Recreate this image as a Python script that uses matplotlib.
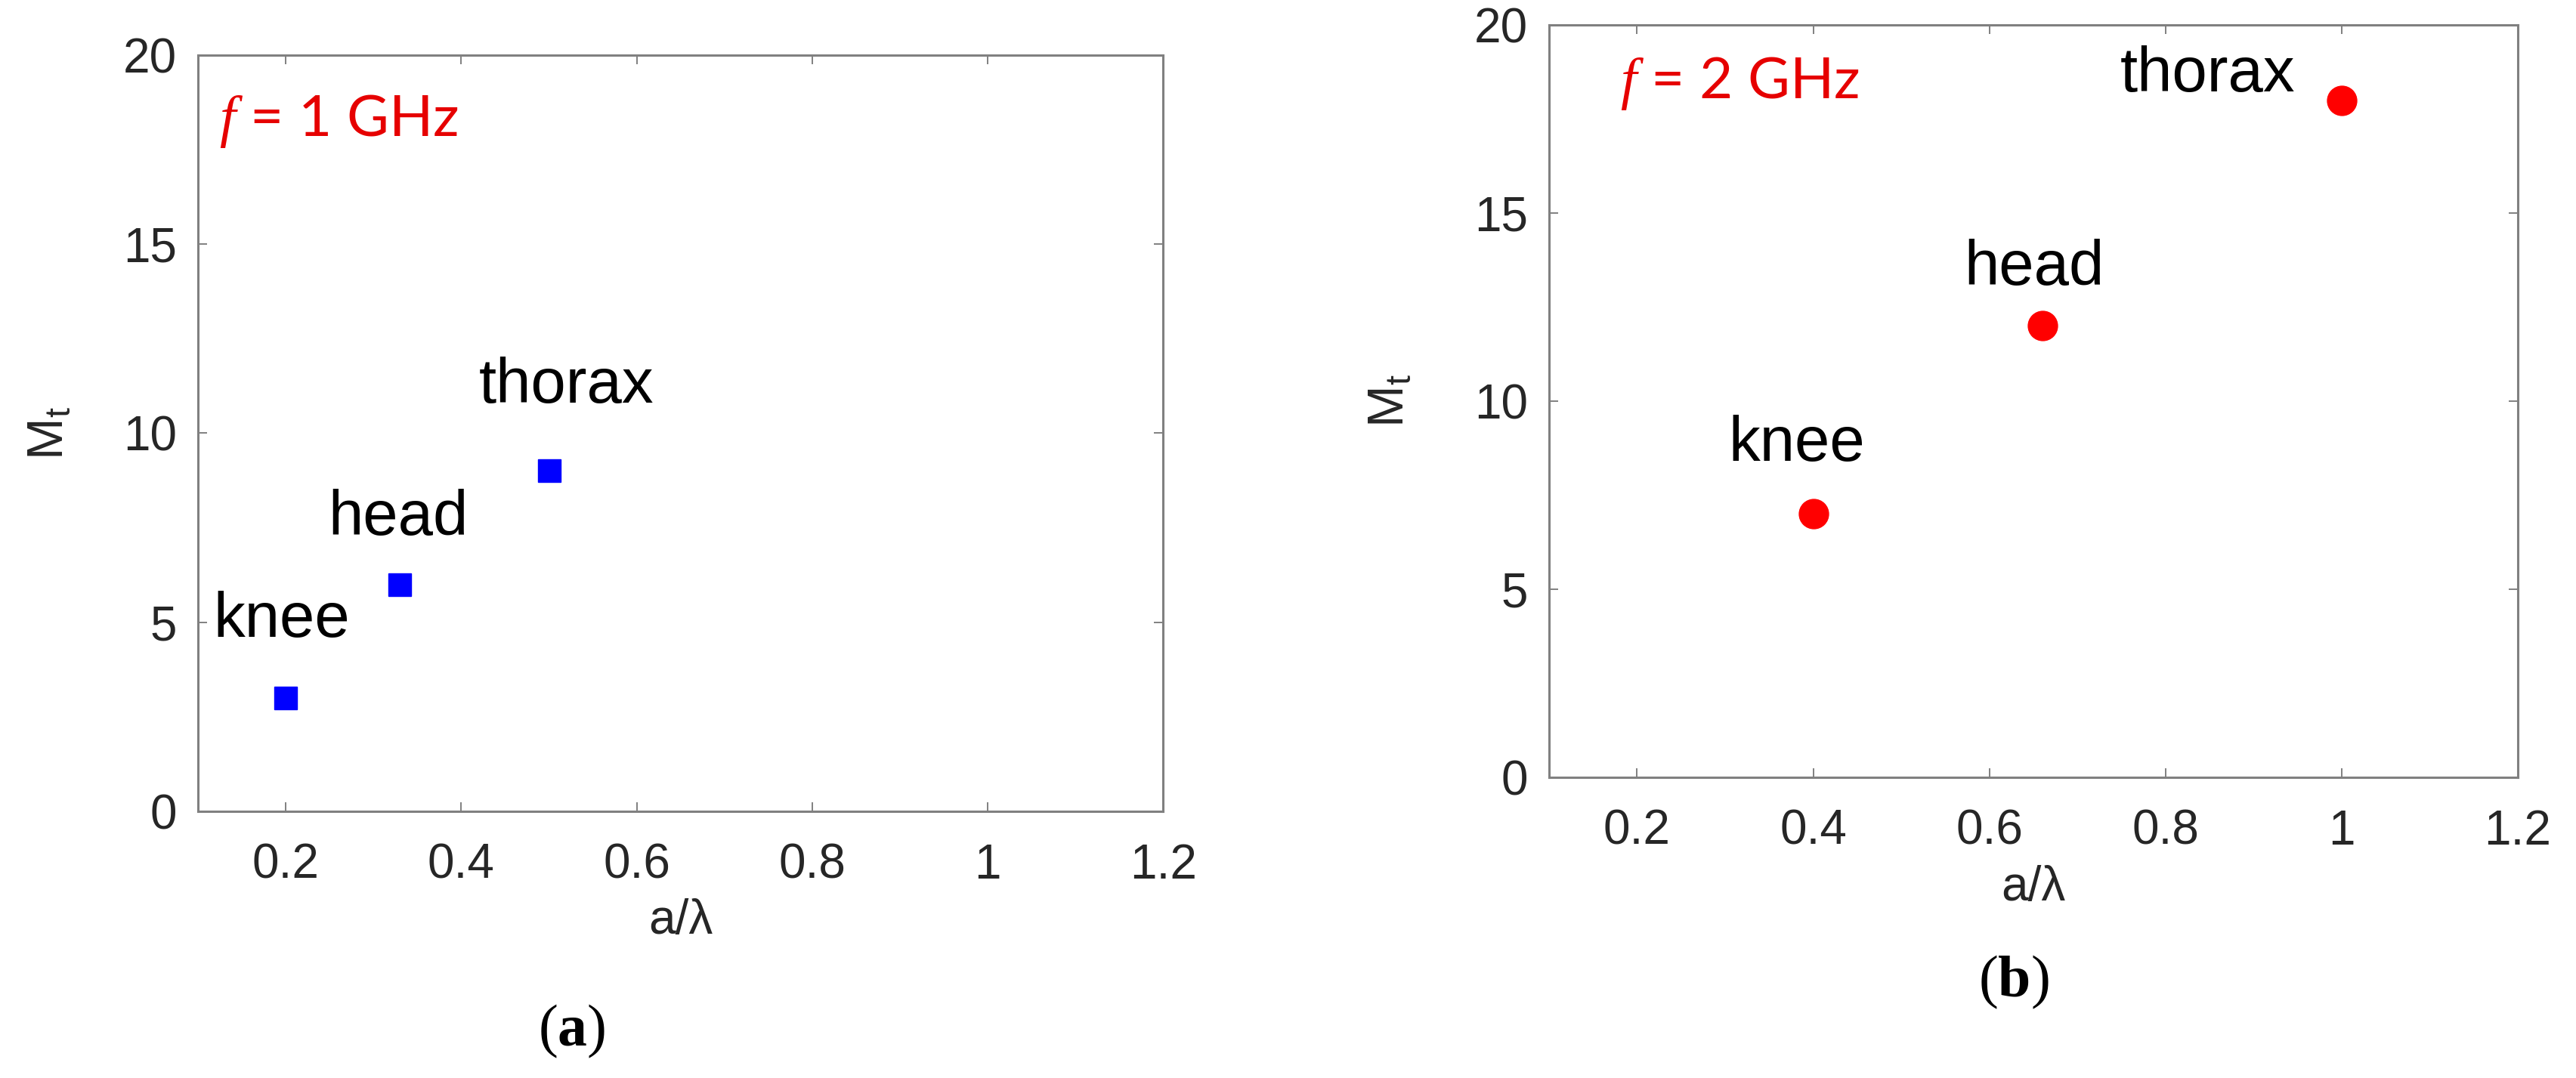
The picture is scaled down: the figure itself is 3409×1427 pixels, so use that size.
import matplotlib
matplotlib.use("Agg")
import matplotlib.pyplot as plt

plt.rcParams["font.family"] = ["Liberation Sans", "DejaVu Sans"]
plt.rcParams["mathtext.fontset"] = "custom"
plt.rcParams["mathtext.rm"] = "Liberation Sans"
plt.rcParams["mathtext.it"] = "Liberation Serif:italic"
plt.rcParams["mathtext.bf"] = "Liberation Serif:bold"
plt.rcParams["mathtext.default"] = "regular"

# data
body_parts = ["knee", "head", "thorax"]
a_lambda_1ghz = [0.2, 0.33, 0.5]
mt_1ghz = [3, 6, 9]
a_lambda_2ghz = [0.4, 0.66, 1.0]
mt_2ghz = [7, 12, 18]
x_ticks = [0.2, 0.4, 0.6, 0.8, 1.0, 1.2]
x_tick_labels = ["0.2", "0.4", "0.6", "0.8", "1", "1.2"]
y_ticks = [0, 5, 10, 15, 20]

# label offsets from each point (data units)
offsets_1ghz = [(-0.005, 1.62), (-0.002, 1.31), (0.02, 1.81)]
offsets_2ghz = [(-0.019, 1.41), (-0.009, 1.1), (-0.152, 0.23)]

SPINE = "#808080"
TEXT = "#262626"
RED = "#e60000"

fig = plt.figure(figsize=(34.09, 14.27), dpi=100)
ax1 = fig.add_axes([0.0769, 0.2474, 0.3746, 0.7015])
ax2 = fig.add_axes([0.6013, 0.2789, 0.3761, 0.6980])


def style(ax, xlab_y, ylab_x):
    ax.set_xlim(0.1, 1.2)
    ax.set_ylim(0, 20)
    ax.set_xticks(x_ticks)
    ax.set_xticklabels(x_tick_labels)
    ax.set_yticks(y_ticks)
    ax.tick_params(axis="both", direction="in", length=8.5, width=1.4,
                   color=SPINE, labelcolor=TEXT, labelsize=46,
                   top=True, right=True)
    ax.tick_params(axis="x", pad=30)
    ax.tick_params(axis="y", pad=20)
    for s in ax.spines.values():
        s.set_color(SPINE)
        s.set_linewidth(2.2)
    ax.set_xlabel("a/\u03bb", fontsize=46, color=TEXT)
    ax.xaxis.set_label_coords(0.5, xlab_y)
    ax.xaxis.label.set_va("center")
    ax.set_ylabel(r"M$_{t}$", fontsize=48, color=TEXT)
    ax.yaxis.set_label_coords(ylab_x, 0.5)


ax1.plot(a_lambda_1ghz, mt_1ghz, linestyle="none", marker="s",
         markersize=21, color="#0000ff")
for name, x, y, (dx, dy) in zip(body_parts, a_lambda_1ghz, mt_1ghz, offsets_1ghz):
    ax1.text(x + dx, y + dy, name, fontsize=60, ha="center", va="baseline")
ax1.text(0.124, 17.86, r"$\mathit{f}$ = 1 GHz", fontsize=55, color=RED,
         family=["Lato", "DejaVu Sans"], va="baseline")
style(ax1, -0.145, -0.13)

ax2.plot(a_lambda_2ghz, mt_2ghz, linestyle="none", marker="o",
         markersize=28, color="#ff0000")
for name, x, y, (dx, dy) in zip(body_parts, a_lambda_2ghz, mt_2ghz, offsets_2ghz):
    ax2.text(x + dx, y + dy, name, fontsize=60, ha="center", va="baseline")
ax2.text(0.181, 18.05, r"$\mathit{f}$ = 2 GHz", fontsize=55, color=RED,
         family=["Lato", "DejaVu Sans"], va="baseline")
style(ax2, -0.147, -0.14)

fig.text(757 / 3409, 1 - 1365 / 1427, r"($\mathbf{a}$)", fontsize=56,
         family="Liberation Serif", ha="center", va="center")
fig.text(2665 / 3409, 1 - 1300 / 1427, r"($\mathbf{b}$)", fontsize=56,
         family="Liberation Serif", ha="center", va="center")

fig.savefig("out.png", dpi=100)
